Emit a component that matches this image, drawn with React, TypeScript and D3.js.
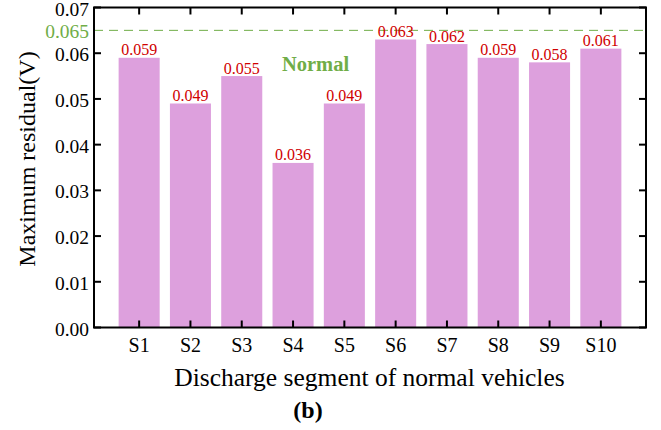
import React from "react";
import * as d3 from "d3";

const categories = ["S1", "S2", "S3", "S4", "S5", "S6", "S7", "S8", "S9", "S10"];
const values = [0.059, 0.049, 0.055, 0.036, 0.049, 0.063, 0.062, 0.059, 0.058, 0.061];
const yTicks = [0, 0.01, 0.02, 0.03, 0.04, 0.05, 0.06, 0.07];
const threshold = 0.065;

export default function App() {
  const W = 661, H = 430;
  const left = 94, right = 646, top = 7.5, bottom = 327.5;
  const x = d3.scaleLinear().domain([0.12, 10.88]).range([left, right]);
  const y = d3.scaleLinear().domain([0, 0.07]).range([bottom, top]);
  const slot = x(2) - x(1);
  const bw = slot * 0.8;
  const font = "'Liberation Serif', 'Times New Roman', serif";
  const tl = 7;
  return (
    <svg width={W} height={H} style={{ position: "absolute", left: 0, top: 0, fontFamily: font }}>
      {categories.map((c, i) => (
        <rect key={c} x={x(i + 1) - bw / 2} y={y(values[i])} width={bw} height={bottom - y(values[i])} fill="#DDA0DD" />
      ))}
      <line x1={left} x2={right} y1={y(threshold)} y2={y(threshold)} stroke="#70AD47" strokeWidth={1} strokeDasharray="9,6" />
      {categories.map((c, i) => (
        <text key={c} x={x(i + 1)} y={y(values[i]) - 2.5} textAnchor="middle" fontSize={16} fill="#D00000">
          {values[i].toFixed(3)}
        </text>
      ))}
      <text x={315.5} y={71} textAnchor="middle" fontSize={20.5} fontWeight="bold" fill="#70AD47">Normal</text>
      <rect x={left} y={top} width={right - left} height={bottom - top} fill="none" stroke="#000" strokeWidth={2} />
      {yTicks.map((t) => (
        <g key={t}>
          <line x1={left} x2={left + tl} y1={y(t)} y2={y(t)} stroke="#000" strokeWidth={2} />
          <line x1={right} x2={right - tl} y1={y(t)} y2={y(t)} stroke="#000" strokeWidth={2} />
          <text x={left - 5} y={y(t) + 8} textAnchor="end" fontSize={19.5} fill="#000">{t.toFixed(2)}</text>
        </g>
      ))}
      <text x={left - 5} y={y(threshold) + 8} textAnchor="end" fontSize={19.5} fill="#70AD47">{threshold.toFixed(3)}</text>
      {categories.map((c, i) => (
        <g key={c}>
          <line x1={x(i + 1)} x2={x(i + 1)} y1={bottom} y2={bottom - tl} stroke="#000" strokeWidth={2} />
          <line x1={x(i + 1)} x2={x(i + 1)} y1={top} y2={top + tl} stroke="#000" strokeWidth={2} />
          <text x={x(i + 1)} y={352} textAnchor="middle" fontSize={20} fill="#000">{c}</text>
        </g>
      ))}
      <text x={369.5} y={386} textAnchor="middle" fontSize={25.5} fill="#000">Discharge segment of normal vehicles</text>
      <text transform={`translate(35, 159) rotate(-90)`} textAnchor="middle" fontSize={24} fill="#000">Maximum residual(V)</text>
      <text x={308} y={418} textAnchor="middle" fontSize={24} fontWeight="bold" fill="#000">(b)</text>
    </svg>
  );
}
